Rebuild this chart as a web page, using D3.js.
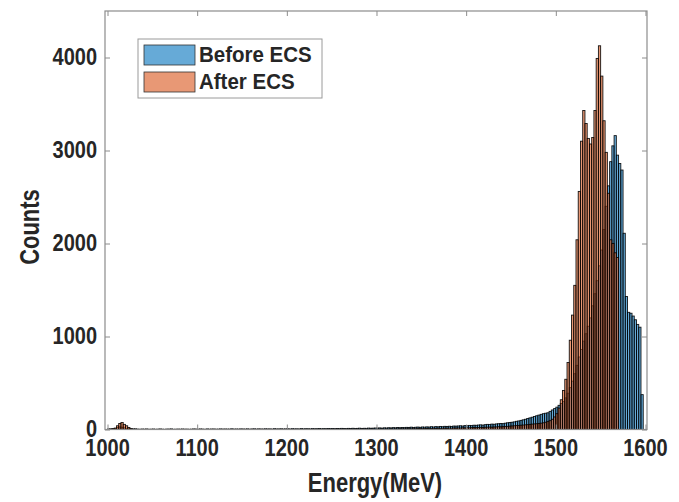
<!DOCTYPE html>
<html>
<head>
<meta charset="utf-8">
<script src="https://cdn.jsdelivr.net/npm/d3@7"></script>
<style>
  html, body { margin: 0; padding: 0; background: #fff; }
  svg { display: block; }
  text { font-family: "Liberation Sans", Arial, Helvetica, sans-serif; font-weight: bold; fill: #262626; }
</style>
</head>
<body>
<svg id="chart" width="679" height="502"></svg>
<script>
// ---- Data ----
const binStart = 1000;      // MeV, left edge of first bin
const binWidth = 2.5;       // MeV
const seriesNames = ["Before ECS", "After ECS"];
const xTicks = [1000, 1100, 1200, 1300, 1400, 1500, 1600];
const yTicks = [0, 1000, 2000, 3000, 4000];

// Counts per bin (bin k covers [1000+2.5k, 1000+2.5(k+1)])
const beforeCounts = [
  4, 5, 8, 12, 20, 28, 24, 18, 12, 8, 5, 4, 6, 3, 2, 4, 3, 5, 2, 3,
  4, 2, 3, 5, 3, 2, 4, 3, 6, 2, 3, 4, 2, 5, 3, 4, 2, 3, 5, 4,
  3, 5, 4, 2, 6, 3, 4, 5, 3, 4, 6, 3, 5, 4, 3, 7, 4, 5, 3, 6,
  5, 4, 6, 3, 5, 7, 4, 6, 5, 4, 7, 5, 6, 4, 8, 5, 6, 7, 5, 6,
  7, 5, 8, 6, 7, 5, 9, 6, 8, 7, 6, 9, 7, 8, 10, 7, 9, 8, 10, 9,
  10, 8, 11, 9, 12, 10, 9, 12, 11, 13, 10, 12, 14, 11, 13, 12, 15, 13, 14, 16,
  15, 17, 14, 18, 16, 19, 17, 20, 18, 21, 19, 22, 20, 23, 22, 25, 21, 24, 26, 23,
  27, 25, 28, 26, 30, 27, 31, 29, 33, 30, 34, 32, 35, 33, 37, 36, 38, 40, 37, 42,
  40, 44, 42, 46, 45, 48, 50, 47, 52, 55, 53, 58, 56, 60, 62, 65, 63, 68, 72, 75,
  78, 82, 88, 92, 98, 104, 110, 118, 125, 132, 140, 148, 155, 163, 170, 175,
  180, 195, 210, 225, 240, 260, 280, 300, 340, 390, 450, 520, 600, 690, 780, 860,
  950, 1030, 1110, 1200, 1330, 1460, 1600, 1760, 1930, 2150, 2400, 2620, 2880, 3050,
  3160, 2950, 2860, 2790, 2110, 1430, 1260, 1250, 1220, 1180, 1130, 1100, 375, 0
];
const afterCounts = [
  3, 5, 8, 15, 40, 65, 75, 55, 40, 22, 10, 5, 3, 2, 1, 2, 1, 2, 1, 1,
  2, 1, 1, 2, 1, 0, 1, 2, 1, 1, 0, 1, 2, 1, 1, 0, 1, 1, 2, 1,
  1, 2, 1, 0, 1, 1, 2, 1, 1, 0, 1, 2, 1, 1, 2, 1, 0, 1, 2, 1,
  1, 1, 2, 1, 2, 1, 1, 2, 1, 2, 1, 2, 1, 1, 2, 2, 1, 2, 1, 2,
  2, 1, 2, 2, 1, 2, 3, 2, 2, 3, 2, 2, 3, 2, 3, 3, 2, 3, 3, 2,
  3, 3, 4, 3, 3, 4, 3, 4, 4, 3, 4, 5, 4, 4, 5, 4, 5, 5, 4, 5,
  5, 6, 5, 6, 6, 5, 7, 6, 7, 6, 7, 8, 7, 8, 8, 7, 9, 8, 9, 10,
  9, 10, 11, 10, 11, 12, 11, 13, 12, 13, 14, 13, 15, 14, 16, 15, 17, 16, 18, 17,
  19, 18, 20, 21, 20, 22, 23, 22, 24, 25, 26, 25, 27, 28, 30, 29, 31, 33, 34, 36,
  38, 40, 42, 44, 46, 48, 50, 52, 55, 58, 60, 62, 65, 68,
  72, 78, 85, 95, 110, 135, 170, 230, 320, 420, 540, 720, 960, 1230, 1550, 2040,
  2560, 3100, 3430, 3290, 3130, 3070, 3140, 3430, 3990, 4126, 3800, 3320, 2980, 2540,
  2040, 2000, 1900, 1850, 0, 0, 0, 0, 0, 0, 0, 0, 0, 0, 0, 0
];

// ---- Layout ----
const plot = { left: 105, right: 647, top: 11, bottom: 429.5 };
const faceColors = ["#0072BD", "#D95319"];
const textStretch = 1.22;   // glyphs in the reference are drawn taller than wide

const svg = d3.select("#chart");
const x = d3.scaleLinear().domain([997.2, 1601.7]).range([plot.left, plot.right]);
const y = d3.scaleLinear().domain([0, 4500]).range([plot.bottom, plot.top]);

svg.append("defs").append("clipPath").attr("id", "clip")
  .append("rect").attr("x", plot.left).attr("y", plot.top)
  .attr("width", plot.right - plot.left).attr("height", plot.bottom - plot.top);

const gBars = svg.append("g").attr("clip-path", "url(#clip)");
[beforeCounts, afterCounts].forEach((arr, si) => {
  gBars.append("g").selectAll("rect")
    .data(arr.map((v, k) => ({ k, v })))
    .join("rect")
    .attr("x", d => x(binStart + d.k * binWidth))
    .attr("width", d => x(binStart + (d.k + 1) * binWidth) - x(binStart + d.k * binWidth))
    .attr("y", d => y(d.v))
    .attr("height", d => y(0) - y(d.v))
    .attr("fill", faceColors[si])
    .attr("fill-opacity", 0.6)
    .attr("stroke", "#000")
    .attr("stroke-opacity", 0.9)
    .attr("stroke-width", 0.9);
});

// ---- Axes (ticks inward on all four sides) ----
const axisColor = "#8c8c8c";
const tickLen = 5;

function strip(g) { g.select(".domain").remove(); g.selectAll(".tick line").attr("stroke", axisColor); }

svg.append("g").attr("transform", `translate(0,${plot.bottom})`)
  .call(d3.axisBottom(x).tickValues(xTicks).tickSize(-tickLen).tickFormat("")).call(strip);
svg.append("g").attr("transform", `translate(0,${plot.top})`)
  .call(d3.axisTop(x).tickValues(xTicks).tickSize(-tickLen).tickFormat("")).call(strip);
svg.append("g").attr("transform", `translate(${plot.left},0)`)
  .call(d3.axisLeft(y).tickValues(yTicks).tickSize(-tickLen).tickFormat("")).call(strip);
svg.append("g").attr("transform", `translate(${plot.right},0)`)
  .call(d3.axisRight(y).tickValues(yTicks).tickSize(-tickLen).tickFormat("")).call(strip);

// tick labels
svg.append("g").selectAll("text").data(xTicks).join("text")
  .attr("transform", d => `translate(${x(d)},456) scale(1,${textStretch})`)
  .attr("text-anchor", "middle").attr("font-size", 20).text(d => d3.format("d")(d));
svg.append("g").selectAll("text").data(yTicks).join("text")
  .attr("transform", d => `translate(97,${y(d) + 7.5}) scale(1,${textStretch})`)
  .attr("text-anchor", "end").attr("font-size", 20).text(d => d3.format("d")(d));

// box
svg.append("rect")
  .attr("x", plot.left).attr("y", plot.top)
  .attr("width", plot.right - plot.left).attr("height", plot.bottom - plot.top)
  .attr("fill", "none").attr("stroke", axisColor).attr("stroke-width", 1.2);

// axis labels
svg.append("text").attr("transform", `translate(375,492) scale(1,1.28)`).attr("text-anchor", "middle")
  .attr("font-size", 22).text("Energy(MeV)");
svg.append("text").attr("transform", `translate(38.5,227) rotate(-90) scale(1,1.28)`).attr("text-anchor", "middle")
  .attr("font-size", 22).text("Counts");

// ---- Legend ----
const leg = svg.append("g");
leg.append("rect").attr("x", 138).attr("y", 39).attr("width", 184).attr("height", 59)
  .attr("fill", "#fff").attr("stroke", "#9a9a9a").attr("stroke-width", 1);
seriesNames.forEach((name, i) => {
  const yy = 45 + i * 27;
  leg.append("rect").attr("x", 144).attr("y", yy).attr("width", 51).attr("height", 20)
    .attr("fill", faceColors[i]).attr("fill-opacity", 0.6)
    .attr("stroke", "#333").attr("stroke-width", 0.8);
  leg.append("text").attr("transform", `translate(199,${yy + 17}) scale(1,1.1)`)
    .attr("font-size", 20.5).text(name);
});
</script>
</body>
</html>
